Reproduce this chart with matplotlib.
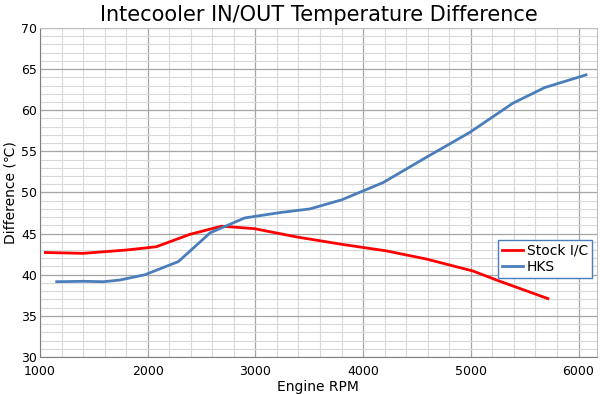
import matplotlib.pyplot as plt
import numpy as np
from matplotlib.ticker import MultipleLocator

# values
stock_rpm = [1050, 1400, 1800, 2080, 2390, 2685, 2990, 3380, 3800, 4215, 4590, 5020, 5270, 5715]
stock_diff = [42.7, 42.6, 43.0, 43.4, 44.9, 45.9, 45.6, 44.6, 43.7, 42.9, 41.9, 40.45, 39.2, 37.1]

hks_rpm = [1155, 1400, 1590, 1740, 1975, 2285, 2580, 2900, 3225, 3505, 3800, 4185, 4590, 4990, 5390, 5685, 6070]
hks_diff = [39.15, 39.2, 39.15, 39.35, 40.0, 41.6, 45.1, 46.9, 47.55, 48.0, 49.1, 51.2, 54.3, 57.3, 60.85, 62.75, 64.3]

fig = plt.figure(figsize=(6, 3.94), dpi=100)
ax = fig.add_axes([0.0667, 0.094, 0.928, 0.835])

ax.plot(stock_rpm, stock_diff, color='#ff0000', linewidth=2, label='Stock I/C')
ax.plot(hks_rpm, hks_diff, color='#4a7ebb', linewidth=2, label='HKS')

ax.set_xlim(1000, 6170)
ax.set_ylim(30, 70)
ax.xaxis.set_major_locator(MultipleLocator(1000))
ax.xaxis.set_minor_locator(MultipleLocator(200))
ax.yaxis.set_major_locator(MultipleLocator(5))
ax.yaxis.set_minor_locator(MultipleLocator(1))

ax.grid(which='minor', color='#d9d9d9', linewidth=0.8)
ax.grid(which='major', color='#a6a6a6', linewidth=0.9)
ax.set_axisbelow(True)

for s in ax.spines.values():
    s.set_color('#bfbfbf')
ax.spines['left'].set_color('#808080')
ax.spines['bottom'].set_color('#808080')

ax.tick_params(which='both', length=0, labelsize=9)
ax.tick_params(axis='x', pad=6)
ax.tick_params(axis='y', pad=2)

ax.set_title('Intecooler IN/OUT Temperature Difference', fontsize=15, pad=5)
ax.set_xlabel('Engine RPM', fontsize=10, labelpad=1)
ax.set_ylabel('Difference (\u2103)', fontsize=10, labelpad=3)

leg = ax.legend(loc='center right', bbox_to_anchor=(0.992, 0.298), fontsize=10,
                fancybox=False, framealpha=1, handlelength=1.5,
                handletextpad=0.3, borderpad=0.3, labelspacing=0.15,
                borderaxespad=0)
leg.get_frame().set_edgecolor('#4a7ebb')
leg.get_frame().set_linewidth(1)

plt.savefig('out.png', dpi=100)
